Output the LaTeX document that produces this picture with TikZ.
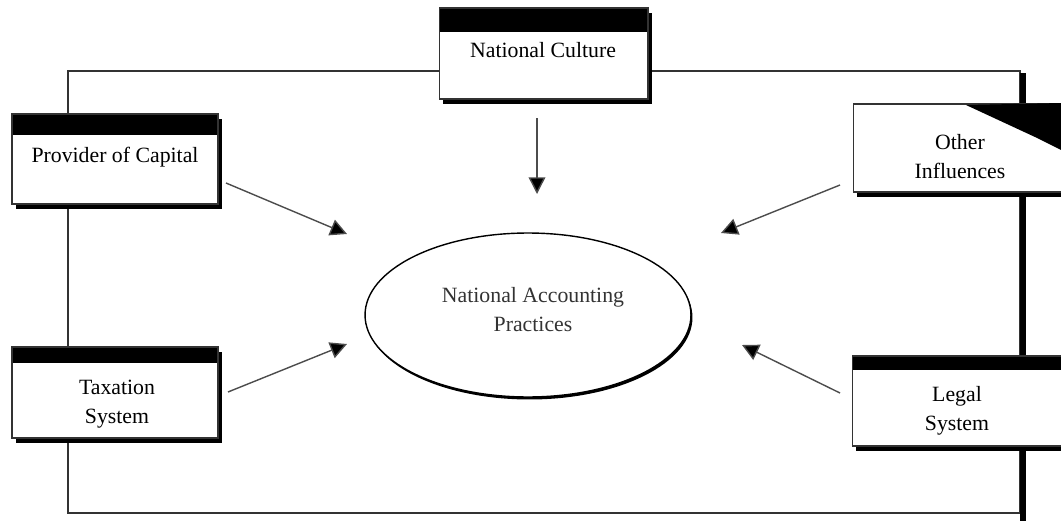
\documentclass[tikz,border=0pt]{standalone}
\usepackage{fontspec}
\setmainfont{Liberation Serif}
\usetikzlibrary{shapes.geometric,shadows,arrows.meta}

\tikzset{
  factor/.style={draw=black!80, line width=0.6pt, fill=white, inner sep=0pt,
    minimum width=4.12cm, minimum height=1.8cm,
    drop shadow={shadow xshift=0.08cm, shadow yshift=-0.1cm, fill=black, opacity=1},
    path picture={\fill[black] (path picture bounding box.north west)
      rectangle ([yshift=-#1]path picture bounding box.north east);}},
  factor/.default=0.42cm,
  txt/.style={align=center, inner sep=0pt, font=\fontsize{12.4}{16.5}\selectfont},
  arr/.style={draw=black!70, line width=0.8pt, -{Triangle[length=9.5pt,width=9.5pt,fill=black]}}
}

\begin{document}
\begin{tikzpicture}[x=0.02cm,y=-0.02cm]
        \useasboundingbox (0,0) rectangle (1061,524);
        \clip (0,0) rectangle (1061,524);

        % Draw the outer frame with its heavy right edge
        \draw[black!80, line width=0.8pt] (68,71) rectangle (1020,513);
        \fill (1020,73) rectangle (1026,521);

        % Draw the factor boxes
        \node[factor=0.48cm, minimum width=4.18cm, minimum height=1.82cm] (nc) at (543.5,53.5) {};
        \node[factor] (pc) at (115,159) {};
        \node[factor=0.32cm, minimum height=1.82cm] (tax) at (115,392.5) {};
        \node[factor=0cm, minimum width=4.4cm, minimum height=1.76cm] (oi) at (963,148) {};
        \node[factor=0.28cm, minimum width=4.4cm] (ls) at (962,401) {};

        % Draw the dark smear on the corner of the right box
        \fill (966,105) -- (1061,103) -- (1061,150) -- (1035,137) -- cycle;

        % Draw the box texts
        \node[txt] (nc-t) at (543,50) {National Culture};
        \node[txt] (pc-t) at (115,157) {Provider of Capital};
        \node[txt] (tax-t) at (117,404) {Taxation\\System};
        \node[txt] (oi-t) at (960,157) {Other\\Influences};
        \node[txt] (ls-t) at (957,411) {Legal\\System};

        % Draw the central ellipse
        \node[ellipse, draw, line width=0.8pt, fill=white, minimum width=6.52cm, minimum height=3.28cm,
          drop shadow={shadow xshift=0.03cm, shadow yshift=-0.05cm, fill=black, opacity=1}] (nap) at (528,315) {};
        \node[txt, text=black!80] (nap-t) at (533,310) {National Accounting\\Practices};

        % Draw the arrow end points
        \coordinate (nc-a) at (537,118);
        \coordinate (nc-b) at (537,194);
        \coordinate (pc-a) at (226,183);
        \coordinate (pc-b) at (347,234);
        \coordinate (tax-a) at (228,392);
        \coordinate (tax-b) at (347,344);
        \coordinate (oi-a) at (840,185);
        \coordinate (oi-b) at (721,233);
        \coordinate (ls-a) at (840,393);
        \coordinate (ls-b) at (742,345);

        % Draw the arrows towards the ellipse
        \draw[arr] (nc-a) -- (nc-b);
        \draw[arr] (pc-a) -- (pc-b);
        \draw[arr] (tax-a) -- (tax-b);
        \draw[arr] (oi-a) -- (oi-b);
        \draw[arr] (ls-a) -- (ls-b);
\end{tikzpicture}
\end{document}
